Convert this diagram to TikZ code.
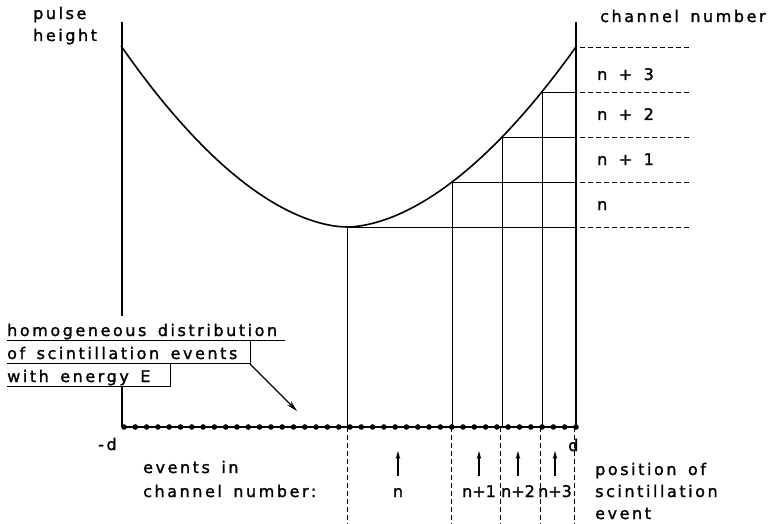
\documentclass[tikz,border=0pt]{standalone}
\usepackage{fontspec}
\newfontfamily\lblfont[LetterSpace=16,WordSpace=1.5,FakeBold=1.5]{DejaVu Sans}
\newfontfamily\tightfont[LetterSpace=0,FakeBold=1.5]{DejaVu Sans}
\usetikzlibrary{arrows.meta}
\begin{document}
\begin{tikzpicture}[x=1pt,y=-1pt,
  lbl/.style={anchor=base west,inner sep=0pt,font=\lblfont\fontsize{16}{22}\selectfont},
  tlbl/.style={anchor=base,inner sep=0pt,font=\tightfont\fontsize{16}{22}\selectfont},
  axis/.style={line width=1.8pt},
  baseln/.style={line width=1.4pt},
  curve/.style={line width=1.6pt},
  thin/.style={line width=0.9pt},
  dashline/.style={line width=0.9pt,dash pattern=on 5pt off 3pt},
  uparrow/.style={line width=1.5pt,-{Stealth[length=8pt,width=4.5pt]}},
  dotmark/.style={fill=black}]
\useasboundingbox (0,0) rectangle (779,524);
% key points
\coordinate (LT) at (122,22);
\coordinate (LB) at (122,427);
\coordinate (RT) at (576,22);
\coordinate (RB) at (576,427);
\coordinate (P0) at (347,227);
\coordinate (P1) at (452,182);
\coordinate (P2) at (502,137);
\coordinate (P3) at (542,92);
\coordinate (P4) at (576,47);
% axes
\draw[axis] (LT) -- (122,316);
\draw[axis] (122,386) -- (LB);
\draw[baseln] (LB) -- (RB);
\draw[axis] (RB) -- (RT);
% curve
\draw[curve] plot[domain=121:576,samples=120,smooth] (\x,{227-(0.0808*(abs(\x-347)+0.001))^(\x<347 ? 1.79 : 1.78)});
% horizontals
\draw[thin] (P0) -- (576,227);
\draw[thin] (P1) -- (576,182);
\draw[thin] (P2) -- (576,137);
\draw[thin] (P3) -- (576,92);
\foreach \y in {47,92,137,182,227} \draw[dashline] (580,\y) -- (690,\y);
% verticals
\foreach \p/\x in {P0/347,P1/452,P2/502,P3/542} \draw[thin] (\p) -- (\x,427);
\foreach \x in {347,451,500,540,574} \draw[dashline] (\x,427) -- (\x,524);
% dots on base line
\foreach \i in {0,...,40} \fill[dotmark] (124+\i*11.3,427) circle (2.8pt);
% labels
\node[lbl] (pulse) at (33,19) {pulse};
\node[lbl] (height) at (33,41) {height};
\node[lbl] (chn) at (600,22) {channel number};
\node[lbl] (c3) at (597,80) {n + 3};
\node[lbl] (c2) at (597,120) {n + 2};
\node[lbl] (c1) at (597,165) {n + 1};
\node[lbl] (c0) at (597,210) {n};
\node[lbl] (h1) at (7,336) {homogeneous distribution};
\node[lbl] (h2) at (7,359) {of scintillation events};
\node[lbl] (h3) at (7,382) {with energy E};
\draw[thin] (7,340) -- (285,340);
\draw[thin] (7,363) -- (250,363) -- (250,340);
\draw[thin] (7,386) -- (170,386) -- (170,363);
\coordinate (arrS) at (250,364);
\coordinate (arrE) at (297,411);
\draw[line width=1.4pt,-{Stealth[length=11pt,width=5.5pt]}] (arrS) -- (arrE);
\node[lbl] (md) at (98,450) {-d};
\node[lbl] (pd) at (568,451) {d};
\node[lbl] (ev1) at (143,473) {events in};
\node[lbl] (ev2) at (143,497) {channel number:};
\node[lbl] (pos1) at (595,475) {position of};
\node[lbl] (pos2) at (595,497) {scintillation};
\node[lbl] (pos3) at (595,519) {event};
\foreach \x/\t/\nm in {398/n/a0,479/n+1/a1,518/n+2/a2,555/n+3/a3}{
  \coordinate (\nm s) at (\x,476);
  \coordinate (\nm e) at (\x,451);
  \draw[uparrow] (\nm s) -- (\nm e);
  \node[tlbl] (\nm l) at (\x,497) {\t};
}
\end{tikzpicture}
\end{document}
